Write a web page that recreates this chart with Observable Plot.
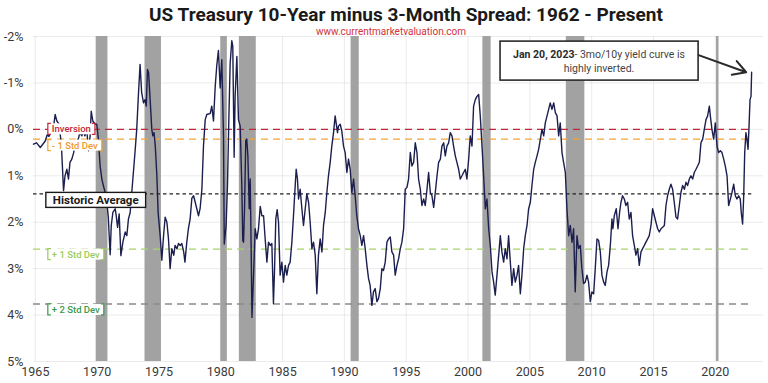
<!DOCTYPE html>
<html>
<head>
<meta charset="utf-8">
<script src="https://cdn.jsdelivr.net/npm/d3@7"></script>
<script src="https://cdn.jsdelivr.net/npm/@observablehq/plot@0.6"></script>
<style>
  html, body { margin: 0; padding: 0; background: #fff; }
  #wrap { position: relative; width: 768px; height: 383px; overflow: hidden; font-family: Roboto, "Noto Sans", sans-serif; }
  #title { position: absolute; top: 5px; left: 406px; transform: translateX(-50%); white-space: nowrap; line-height: 20px;
           font-family: Roboto, sans-serif; font-weight: 700; font-size: 19px; color: #1a1a1a; }
  #site { position: absolute; top: 25.5px; left: 391px; transform: translateX(-50%); white-space: nowrap; line-height: 11px;
          font-family: Roboto, sans-serif; font-size: 10px; color: #d0343a; }
</style>
</head>
<body>
<div id="wrap">
  <div id="chart"></div>
  <div id="title">US Treasury 10-Year minus 3-Month Spread: 1962 - Present</div>
  <div id="site">www.currentmarketvaluation.com</div>
</div>
<script>
// ---- Data (decimal year, 10y - 3m spread in %) ----
const years = [
1964.85,1965.1,1965.4,1965.6,1965.8,1965.95,1966.1,1966.3,1966.45,1966.6,1966.74,1966.9,1967.1,1967.28,1967.4,1967.55,1967.68,1967.8,1967.95,
1968.1,1968.2,1968.35,1968.5,1968.6,1968.76,1968.9,1969.0,1969.17,1969.3,1969.43,1969.52,1969.65,1969.84,1969.97,
1970.1,1970.24,1970.38,1970.5,1970.65,1970.78,1970.9,1971.05,1971.14,1971.27,1971.46,1971.54,1971.65,1971.78,1971.92,
1972.08,1972.27,1972.4,1972.53,1972.67,1972.8,1972.93,1973.07,1973.2,1973.33,1973.47,1973.6,1973.75,1973.88,1973.97,
1974.07,1974.16,1974.3,1974.42,1974.5,1974.6,1974.7,1974.83,1974.93,1975.1,1975.23,1975.37,1975.5,1975.64,1975.77,1975.9,
1976.04,1976.2,1976.3,1976.45,1976.58,1976.72,1976.85,1977.0,1977.1,1977.25,1977.38,1977.52,1977.66,1977.8,1977.93,
1978.06,1978.2,1978.33,1978.47,1978.6,1978.74,1978.87,1979.0,1979.14,1979.27,1979.41,1979.55,1979.68,1979.81,1979.95,
1980.08,1980.22,1980.28,1980.43,1980.54,1980.65,1980.76,1980.89,1980.97,1981.08,1981.16,1981.3,1981.43,1981.57,1981.7,1981.78,1981.84,1981.92,
1982.02,1982.1,1982.19,1982.3,1982.38,1982.46,1982.52,1982.65,1982.78,1982.92,1983.05,1983.19,1983.32,1983.46,1983.59,1983.73,1983.86,
1984.0,1984.13,1984.26,1984.35,1984.45,1984.56,1984.67,1984.8,1984.94,1985.07,1985.21,1985.34,1985.48,1985.61,1985.75,1985.88,
1986.02,1986.1,1986.2,1986.29,1986.42,1986.56,1986.69,1986.83,1986.96,1987.1,1987.23,1987.37,1987.5,1987.64,1987.77,1987.9,
1988.04,1988.18,1988.31,1988.45,1988.58,1988.71,1988.85,1988.98,1989.12,1989.25,1989.33,1989.44,1989.52,1989.66,1989.79,1989.93,
1990.06,1990.2,1990.33,1990.47,1990.6,1990.74,1990.87,1991.0,1991.14,1991.28,1991.41,1991.55,1991.68,1991.82,1991.95,
1992.08,1992.22,1992.35,1992.49,1992.63,1992.76,1992.9,1993.03,1993.16,1993.3,1993.44,1993.57,1993.71,1993.84,1993.98,
1994.11,1994.25,1994.38,1994.52,1994.65,1994.79,1994.92,1995.06,1995.19,1995.33,1995.46,1995.6,1995.73,1995.87,
1996.0,1996.14,1996.27,1996.41,1996.54,1996.68,1996.81,1996.95,1997.08,1997.22,1997.35,1997.49,1997.62,1997.76,1997.89,
1998.03,1998.16,1998.29,1998.43,1998.56,1998.7,1998.83,1998.97,1999.1,1999.24,1999.37,1999.51,1999.64,1999.78,1999.91,
2000.05,2000.18,2000.32,2000.45,2000.59,2000.72,2000.86,2000.99,2001.13,2001.26,2001.4,2001.53,2001.67,2001.8,2001.94,
2002.07,2002.2,2002.34,2002.48,2002.61,2002.74,2002.88,2003.01,2003.15,2003.28,2003.42,2003.55,2003.69,2003.82,2003.96,
2004.09,2004.23,2004.36,2004.5,2004.63,2004.77,2004.9,2005.04,2005.17,2005.31,2005.44,2005.58,2005.71,2005.85,2005.98,
2006.12,2006.25,2006.39,2006.52,2006.65,2006.79,2006.93,2007.06,2007.2,2007.33,2007.46,2007.6,2007.73,2007.87,
2008.0,2008.14,2008.27,2008.41,2008.54,2008.67,2008.81,2008.94,2009.08,2009.21,2009.35,2009.48,2009.62,2009.75,2009.89,
2010.02,2010.16,2010.29,2010.43,2010.56,2010.7,2010.83,2010.97,2011.1,2011.24,2011.37,2011.51,2011.64,2011.72,2011.83,2011.99,
2012.13,2012.26,2012.37,2012.5,2012.64,2012.77,2012.91,2013.04,2013.18,2013.31,2013.45,2013.58,2013.72,2013.85,2013.99,
2014.12,2014.26,2014.39,2014.53,2014.66,2014.8,2014.93,2015.07,2015.2,2015.34,2015.47,2015.61,2015.74,2015.88,
2016.01,2016.14,2016.28,2016.41,2016.55,2016.68,2016.82,2016.95,2017.09,2017.22,2017.36,2017.5,2017.63,2017.76,2017.9,
2018.03,2018.17,2018.3,2018.44,2018.57,2018.71,2018.84,2018.98,2019.11,2019.25,2019.38,2019.52,2019.6,2019.73,2019.87,
2020.0,2020.14,2020.27,2020.41,2020.54,2020.68,2020.81,2020.95,2021.08,2021.22,2021.35,2021.49,2021.62,2021.75,2021.89,
2022.02,2022.1,2022.21,2022.3,2022.38,2022.48,2022.56,2022.65,2022.73,2022.81,2022.89,2022.94
];
const spread = [
0.32,0.29,0.39,0.32,0.25,0.12,0.15,0.05,0.0,-0.32,-0.18,-0.12,0.3,1.32,1.0,0.86,1.07,0.71,0.64,
0.5,0.36,0.29,0.18,0.07,0.14,0.04,0.14,0.04,0.46,0.14,-0.39,-0.18,-0.11,-0.11,
0.21,0.79,1.07,1.21,1.36,1.57,1.89,2.7,2.07,1.79,1.71,1.86,2.11,1.82,2.72,
2.43,2.21,2.29,1.93,1.79,1.36,0.93,0.46,0.0,-0.71,-1.4,-0.79,-0.57,-0.64,-0.5,
-1.29,-1.22,-0.57,0.0,0.14,0.07,0.36,1.0,1.79,2.3,2.82,2.29,1.89,2.0,2.36,3.0,
2.57,2.71,2.5,2.57,2.46,2.5,2.46,2.64,2.86,2.43,2.14,1.93,1.48,1.43,1.57,
1.71,1.86,1.7,1.29,0.36,-0.21,-0.32,-0.33,-0.34,-0.5,-0.18,-0.93,-1.39,-1.7,-0.89,
-1.5,0.14,2.47,2.07,1.21,-0.21,-1.43,-1.91,-1.79,0.6,-0.71,-1.57,-0.21,-0.07,1.21,2.4,2.43,1.71,
0.24,0.21,0.57,1.71,1.07,2.64,4.05,3.14,2.14,2.36,2.14,1.66,1.86,1.86,2.36,2.86,2.43,
2.5,2.46,3.75,3.0,1.93,1.73,2.0,3.14,2.86,3.29,2.93,3.14,2.93,2.86,2.43,1.86,
1.21,0.86,1.07,1.5,1.29,1.71,2.07,1.71,1.39,1.57,2.0,2.57,2.43,2.71,3.54,2.71,
2.36,2.64,2.07,1.79,1.36,1.0,0.71,0.36,0.07,-0.29,-0.14,0.07,-0.07,-0.11,0.04,0.36,
0.5,0.93,0.64,0.86,1.36,1.07,1.43,1.86,2.14,2.29,2.5,2.29,2.57,2.93,3.21,
3.36,3.79,3.5,3.43,3.71,3.64,3.43,3.0,3.04,2.86,2.43,2.36,2.32,2.64,2.71,
3.14,2.93,2.79,2.57,2.43,2.14,1.29,1.25,1.07,0.5,0.79,0.71,0.29,0.5,
1.07,1.29,1.64,1.5,1.64,1.29,0.93,1.36,1.43,1.68,1.36,1.0,0.71,0.64,0.36,
0.29,0.57,0.36,0.29,0.07,0.14,0.36,0.57,0.71,0.86,1.07,1.0,0.93,0.86,1.07,
0.64,0.14,0.36,-0.5,-0.64,-0.71,-0.75,-0.29,0.36,1.0,1.71,1.5,2.14,2.5,3.07,
3.29,3.57,3.14,2.71,2.29,2.64,2.86,2.57,2.79,2.29,2.86,3.36,3.0,3.29,3.14,
2.93,3.54,3.14,2.57,2.29,2.07,1.71,1.57,1.21,0.86,0.71,0.57,0.43,0.21,0.0,
0.14,-0.14,-0.29,-0.43,-0.57,-0.43,-0.57,-0.36,-0.29,0.14,-0.14,0.5,0.71,0.93,
1.71,2.29,2.07,2.43,2.14,3.5,2.29,2.57,2.5,3.0,3.32,3.29,3.14,3.29,3.71,
3.5,3.54,3.0,2.36,2.39,2.64,3.14,3.29,3.36,3.07,2.93,2.5,1.93,2.14,1.86,1.71,
2.14,1.79,1.57,1.43,1.5,1.64,1.57,1.93,1.79,2.29,2.5,2.71,2.57,2.93,2.64,
2.57,2.5,2.43,2.36,2.29,2.07,1.71,1.86,2.0,2.14,2.21,2.14,2.11,2.07,
1.64,1.43,1.29,1.18,1.29,1.57,1.89,1.93,1.64,1.36,1.21,1.29,1.14,1.21,1.07,
1.0,1.07,0.93,0.86,0.79,0.71,0.29,0.21,0.0,-0.21,-0.29,-0.5,-0.29,0.0,0.21,
-0.14,0.36,0.5,0.46,0.5,0.64,0.79,1.0,1.64,1.5,1.36,1.18,1.43,1.5,1.43,
1.5,1.79,2.04,1.43,0.5,0.07,0.21,0.43,-0.07,-0.64,-0.71,-1.23
];

// NBER recessions (decimal years)
const recStart = [1969.92, 1973.87, 1980.0, 1981.5, 1990.54, 2001.2, 2007.95, 2020.1];
const recEnd   = [1970.87, 1975.2, 1980.53, 1982.87, 1991.2, 2001.87, 2009.45, 2020.3];

// Reference levels
const refNames  = ["Inversion", "- 1 Std Dev", "Historic Average", "+ 1 Std Dev", "+ 2 Std Dev"];
const refValues = [0, 0.21, 1.39, 2.58, 3.76];

const xTicks = [1965, 1970, 1975, 1980, 1985, 1990, 1995, 2000, 2005, 2010, 2015, 2020];
const yTicks = [-2, -1, 0, 1, 2, 3, 4, 5];

// Annotation
const noteBold = "Jan 20, 2023";
const noteRest = "- 3mo/10y yield curve is";
const noteLine2 = "highly inverted.";

// ---- Build ----
const series = years.map((y, i) => ({year: y, spread: spread[i]}));
const recessions = recStart.map((s, i) => ({start: s, end: recEnd[i]}));

const refStyle = [
  {stroke: "#c0283a", dash: "7,5", text: "#c0283a", bracket: "#c0283a", dy: 0, bold: false},
  {stroke: "#f5a431", dash: "7,5", text: "#f09a28", bracket: "#f5a431", dy: 6.5, bold: false},
  {stroke: "#222222", dash: "3.5,3", text: "#1a1a1a", bracket: "#1a1a1a", dy: 6.5, bold: true},
  {stroke: "#a8d46a", dash: "7,5", text: "#9ccb5b", bracket: "#9ccb5b", dy: 5.5, bold: false},
  {stroke: "#8a8a8a", dash: "7,5", text: "#3a9a4c", bracket: "#3a9a4c", dy: 6, bold: false}
];

const xEndRef = 2022.95;
const xDomain = [1964.85, 2023.9];

const refMarks = refValues.map((v, i) =>
  Plot.ruleY([v], {x1: xDomain[0], x2: xEndRef, stroke: refStyle[i].stroke, strokeWidth: 1.4, strokeDasharray: refStyle[i].dash})
);

const arrowData = [{x1: 2018.65, y1: -1.6, x2: 2022.5, y2: -1.23}];

const plot = Plot.plot({
  width: 768,
  height: 383,
  marginTop: 36,
  marginBottom: 22,
  marginLeft: 33,
  marginRight: 5,
  style: {fontFamily: "Roboto, 'Noto Sans', sans-serif", fontSize: "12.5px", color: "#3a3a3a", background: "white"},
  x: {domain: xDomain, ticks: xTicks, tickFormat: d => String(d), tickSize: 0, tickPadding: 6, label: null, grid: true},
  y: {domain: [-2, 5], reverse: true, ticks: yTicks, tickFormat: d => d + "%", tickSize: 0, tickPadding: 10, label: null, grid: true},
  marks: [
    Plot.rect(recessions, {x1: "start", x2: "end", fill: "#a2a2a2"}),
    ...refMarks,
    Plot.line(series, {x: "year", y: "spread", stroke: "#1c1f4e", strokeWidth: 1.4}),
    Plot.arrow(arrowData, {x1: "x1", y1: "y1", x2: "x2", y2: "y2", stroke: "#2a2a2a", strokeWidth: 2, headLength: 11, bend: 0})
  ]
});

document.getElementById("chart").append(plot);

const sx = plot.scale("x"), sy = plot.scale("y");
const svg = d3.select(plot);
const font = "Roboto, 'Noto Sans', sans-serif";

// Reference labels
const labelX = sx.apply(1966.05);
refNames.forEach((name, i) => {
  const st = refStyle[i];
  const cy = sy.apply(refValues[i]) + st.dy;
  const g = svg.append("g");
  const rect = g.append("rect").attr("fill", "white");
  const t = g.append("text")
    .attr("font-family", font)
    .attr("font-size", st.bold ? 11.5 : 9.5)
    .attr("font-weight", st.bold ? 700 : 500)
    .attr("fill", st.text)
    .attr("text-anchor", "middle")
    .attr("dy", "0.36em")
    .text(name);
  const tw = t.node().getComputedTextLength();
  const pad = st.bold ? 7 : 4;
  const w = tw + 2 * pad;
  const h = st.bold ? 15 : 11;
  const x0 = st.bold ? labelX - 2 : labelX;
  t.attr("x", x0 + w / 2).attr("y", cy);
  rect.attr("x", x0).attr("y", cy - h / 2).attr("width", w).attr("height", h);
  if (st.bold) {
    rect.attr("stroke", st.bracket).attr("stroke-width", 1.4);
  } else {
    const y0 = cy - h / 2, y1 = cy + h / 2, x1 = x0 + w;
    g.append("path")
      .attr("d", `M${x0 + 3},${y0}H${x0}V${y1}H${x0 + 3}M${x1 - 3},${y0}H${x1}V${y1}H${x1 - 3}`)
      .attr("fill", "none").attr("stroke", st.bracket).attr("stroke-width", 1.2);
  }
});

// Annotation box
const bx0 = sx.apply(2002.63), bx1 = sx.apply(2018.65);
const by0 = sy.apply(-1.89), by1 = sy.apply(-1.05);
const ag = svg.append("g");
ag.append("rect").attr("x", bx0).attr("y", by0).attr("width", bx1 - bx0).attr("height", by1 - by0)
  .attr("fill", "white").attr("stroke", "#2a2a2a").attr("stroke-width", 1.6);
const cx = (bx0 + bx1) / 2;
const l1 = ag.append("text").attr("x", cx).attr("y", by0 + 17).attr("text-anchor", "middle")
  .attr("font-family", font).attr("font-size", 10.5).attr("fill", "#444");
l1.append("tspan").attr("font-weight", 700).attr("fill", "#2a2a2a").text(noteBold);
l1.append("tspan").text(noteRest);
ag.append("text").attr("x", cx).attr("y", by0 + 31).attr("text-anchor", "middle")
  .attr("font-family", font).attr("font-size", 10.5).attr("fill", "#444").text(noteLine2);

// bring arrow on top of box
svg.selectAll("g[aria-label='arrow']").raise();
</script>
</body>
</html>
